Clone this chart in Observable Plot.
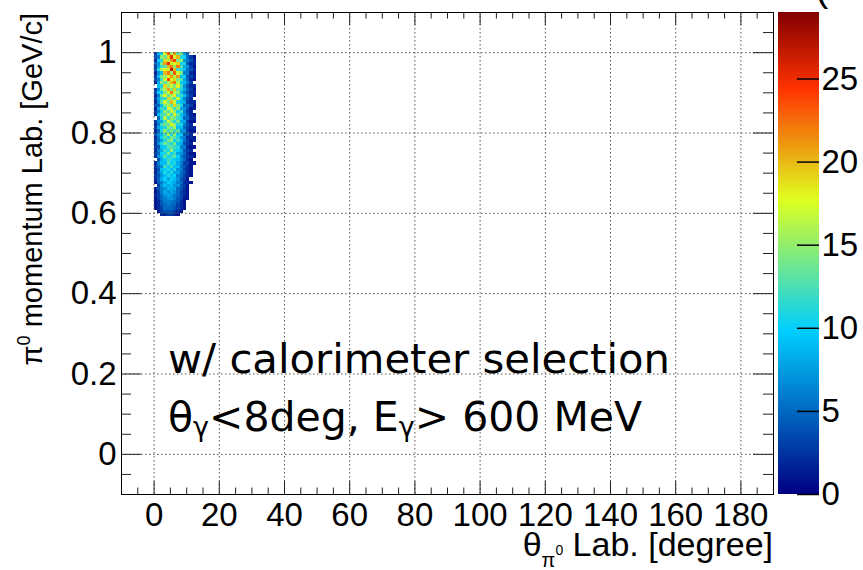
<!DOCTYPE html>
<html><head><meta charset="utf-8">
<script src="https://cdn.jsdelivr.net/npm/d3@7"></script>
<script src="https://cdn.jsdelivr.net/npm/@observablehq/plot@0.6"></script>
<style>
html,body{margin:0;padding:0;background:#fff;}
#wrap{position:relative;width:863px;height:570px;overflow:hidden;background:#fff;}
#wrap svg{position:absolute;top:0;}
</style></head><body><div id="wrap"></div>
<script>
// ---- histogram binning (theta in degree, momentum in GeV/c) ----
const thetaEdgeStart = 0;
const thetaBinWidth = 1;
const pTopEdge = 1.0;
const pBinWidth = 0.008;

// counts per row, from the top row (0.992-1.000 GeV/c) downwards; columns = theta bins 0..12 deg
const countRows = [
  "3 9 10 18 23 16 21 13 14 7 5 0 0",
  "4 6 15 14 19 25 17 20 11 10 5 3 1",
  "2 10 11 19 16 21 24 14 15 7 6 4 2",
  "5 7 14 21 25 17 18 19 10 11 4 2 2",
  "3 8 12 13 20 22 15 22 13 8 7 3 1",
  "4 11 16 18 17 27 20 12 11 9 5 4 2",
  "2 7 9 20 22 15 23 17 14 6 6 2 1",
  "3 9 14 15 18 21 16 21 9 10 4 3 2",
  "4 6 12 17 24 18 19 14 13 8 5 2 1",
  "2 8 15 13 16 20 22 16 10 9 6 3 0",
  "0 9 11 19 15 17 14 18 12 7 4 2 2",
  "3 7 13 16 21 14 19 13 11 8 5 3 1",
  "4 10 10 14 17 22 16 15 9 6 4 2 2",
  "2 6 14 18 13 16 18 12 12 9 5 3 1",
  "3 8 11 12 19 15 13 17 10 6 4 2 0",
  "2 7 13 17 14 20 17 11 9 8 3 2 2",
  "4 5 9 14 16 13 19 14 11 5 5 3 1",
  "2 8 12 11 18 16 12 15 8 7 4 1 2",
  "3 6 10 15 13 17 15 10 12 6 3 2 0",
  "2 9 12 13 16 12 18 13 9 7 4 2 1",
  "0 5 11 16 12 15 14 12 10 5 5 2 2",
  "3 7 8 12 17 14 11 14 8 8 3 1 1",
  "2 6 12 14 13 18 15 11 11 6 4 2 0",
  "3 8 10 11 15 13 16 9 9 5 3 2 2",
  "2 5 11 15 12 14 12 13 7 7 3 1 1",
  "4 7 9 12 16 11 15 10 10 4 4 2 0",
  "2 6 10 13 11 14 13 11 7 6 2 2 1",
  "3 5 8 11 14 15 10 12 9 5 3 1 2",
  "2 7 11 14 12 11 14 9 8 4 3 2 0",
  "3 4 9 10 13 13 12 11 6 6 2 1 1",
  "2 6 8 12 11 15 11 10 8 4 3 2 0",
  "3 5 10 11 14 10 12 8 7 5 2 1 1",
  "2 7 9 13 10 12 13 10 6 4 3 2 1",
  "0 4 8 10 12 11 10 9 7 5 2 1 0",
  "2 6 9 9 13 10 11 8 6 3 3 1 1",
  "3 5 7 12 10 12 9 9 5 4 2 1 0",
  "2 4 9 10 11 9 11 7 6 3 2 1 0",
  "2 5 8 11 9 11 8 8 5 4 2 1 0",
  "3 4 7 9 11 9 10 6 5 3 2 1 0",
  "2 5 8 10 8 10 9 7 4 3 1 0 0",
  "1 4 6 8 10 9 8 6 5 2 2 1 0",
  "0 3 7 9 8 9 7 7 4 3 1 0 0",
  "2 4 6 7 9 8 8 5 4 2 1 0 0",
  "1 3 6 8 7 8 7 5 3 2 1 0 0",
  "2 3 5 7 8 7 6 5 3 2 1 0 0",
  "1 3 5 6 7 7 6 4 3 1 1 0 0",
  "1 2 4 6 6 6 5 4 2 1 0 0 0",
  "1 2 4 5 6 5 5 3 2 1 0 0 0",
  "1 2 3 5 5 5 4 3 2 1 0 0 0",
  "0 1 3 4 4 4 3 2 1 0 0 0 0",
  "0 0 2 2 3 3 2 1 0 0 0 0 0"
];

// axes
const xDomain = [-10, 190];
const yDomain = [-0.1, 1.1];
const xMajorTicks = [0, 20, 40, 60, 80, 100, 120, 140, 160, 180];
const yMajorTicks = [0, 0.2, 0.4, 0.6, 0.8, 1];
const yMajorLabels = ["0", "0.2", "0.4", "0.6", "0.8", "1"];
const zMax = 29;
const zTicks = [0, 5, 10, 15, 20, 25];
const paletteStops = [0, 0.34, 0.61, 0.84, 1];
const paletteColors = ["rgb(0,0,130)", "rgb(0,207,255)", "rgb(222,255,31)", "rgb(255,51,0)", "rgb(130,0,0)"];

// ---- build table ----
const cells = [];
countRows.forEach((row, r) => {
  const vals = row.trim().split(/\s+/).map(Number);
  const y2 = pTopEdge - r * pBinWidth, y1 = y2 - pBinWidth;
  vals.forEach((v, c) => {
    if (v > 0) cells.push({x1: thetaEdgeStart + c * thetaBinWidth, x2: thetaEdgeStart + (c + 1) * thetaBinWidth, y1, y2, v});
  });
});
const xMinorTicks = d3.range(-10, 190.001, 5);
const yMinorTicks = d3.range(-0.1, 1.1001, 0.05);

const W = 863, H = 570, mL = 121, mR = 90, mT = 12, mB = 76;
const pxX = (xDomain[1] - xDomain[0]) / (W - mL - mR);
const pxY = (yDomain[1] - yDomain[0]) / (H - mT - mB);
const FONT = "Liberation Sans, Arial, Helvetica, sans-serif";
const TICKFS = 33;

const colorScale = {type: "linear", domain: paletteStops.map(s => s * zMax), range: paletteColors, clamp: true};
const isMajorY = d => yMajorTicks.some(t => Math.abs(t - d) < 1e-6);

const main = Plot.plot({
  width: W, height: H,
  marginLeft: mL, marginRight: mR, marginTop: mT, marginBottom: mB,
  style: {fontFamily: FONT, background: "transparent", color: "black"},
  x: {domain: xDomain, axis: null},
  y: {domain: yDomain, axis: null},
  color: colorScale,
  marks: [
    Plot.rect(cells, {x1: "x1", x2: "x2", y1: "y1", y2: "y2", fill: "v", shapeRendering: "crispEdges"}),
    Plot.gridX(xMajorTicks, {x: d => d, stroke: "#555", strokeOpacity: 1, strokeWidth: 1, strokeDasharray: "1.5,2.5"}),
    Plot.gridY(yMajorTicks, {y: d => d, stroke: "#555", strokeOpacity: 1, strokeWidth: 1, strokeDasharray: "1.5,2.5"}),
    Plot.ruleX(xMinorTicks, {x: d => d, y1: () => yDomain[0], y2: d => yDomain[0] + (xMajorTicks.includes(d) ? 13 : 6.5) * pxY, stroke: "#222"}),
    Plot.ruleX(xMinorTicks, {x: d => d, y1: () => yDomain[1], y2: d => yDomain[1] - (xMajorTicks.includes(d) ? 13 : 6.5) * pxY, stroke: "#222"}),
    Plot.ruleY(yMinorTicks, {y: d => d, x1: () => xDomain[0], x2: d => xDomain[0] + (isMajorY(d) ? 20 : 10) * pxX, stroke: "#222"}),
    Plot.ruleY(yMinorTicks, {y: d => d, x1: () => xDomain[1], x2: d => xDomain[1] - (isMajorY(d) ? 20 : 10) * pxX, stroke: "#222"}),
    Plot.frame({stroke: "black", strokeWidth: 1}),
    Plot.text(xMajorTicks, {x: d => d, y: () => yDomain[0], text: d => String(d), dy: 21, lineAnchor: "middle", fontSize: TICKFS, fontFamily: FONT, fill: "black"}),
    Plot.text(yMajorTicks, {x: () => xDomain[0], y: d => d, text: (d, i) => yMajorLabels[i], dx: -5, textAnchor: "end", lineAnchor: "middle", fontSize: TICKFS, fontFamily: FONT, fill: "black"})
  ]
});
main.style.left = "0px";

const rampStep = zMax / 400;
const ramp = d3.range(0, zMax, rampStep);
const bar = Plot.plot({
  width: 85, height: H,
  marginLeft: 0, marginRight: 44, marginTop: mT, marginBottom: mB,
  style: {fontFamily: FONT, background: "transparent", color: "black", overflow: "visible"},
  x: {domain: [0, 1], axis: null},
  y: {domain: [0, zMax], axis: null},
  color: colorScale,
  marks: [
    Plot.rect(ramp, {x1: () => 0, x2: () => 1, y1: d => d, y2: d => Math.min(zMax, d + rampStep * 1.6), fill: d => d + rampStep / 2, shapeRendering: "crispEdges"}),
    Plot.ruleY(zTicks, {y: d => d, x1: () => 1 - 22 / 41, x2: () => 1, stroke: "black", strokeWidth: 1.5}),
    Plot.text(zTicks, {x: () => 1, y: d => d, text: d => String(d), dx: 2, textAnchor: "start", lineAnchor: "middle", fontSize: TICKFS, fontFamily: FONT, fill: "black"})
  ]
});
bar.style.left = "778px";

const wrap = document.getElementById("wrap");
wrap.appendChild(main);
wrap.appendChild(bar);

// ---- titles and annotation ----
const NS = "http://www.w3.org/2000/svg";
const over = document.createElementNS(NS, "svg");
over.setAttribute("width", W); over.setAttribute("height", H);
over.style.left = "0px"; over.style.pointerEvents = "none";
over.innerHTML = `
<g font-family="${FONT}" fill="black">
  <text x="773" y="556" font-size="34" text-anchor="end">θ<tspan font-size="20" dy="11">π</tspan><tspan font-size="14" dy="-12">0</tspan><tspan font-size="34" dy="1"> Lab. [degree]</tspan></text>
  <text transform="translate(42,13) rotate(-90)" font-size="29" text-anchor="end">π<tspan font-size="18" dy="-12">0</tspan><tspan font-size="29" dy="12"> momentum Lab. [GeV/c]</tspan></text>
  <text x="815" y="1" font-size="40">(</text>
</g>
<g font-family="DejaVu Sans, Verdana, sans-serif" fill="black">
  <text x="168" y="373" font-size="41" textLength="502" lengthAdjust="spacingAndGlyphs">w/ calorimeter selection</text>
  <text x="168" y="431" font-size="41">θ<tspan font-size="27" dy="5">γ</tspan><tspan font-size="41" dy="-5">&lt;8deg, E</tspan><tspan font-size="27" dy="5">γ</tspan><tspan font-size="41" dy="-5">&gt; 600 MeV</tspan></text>
</g>`;
wrap.appendChild(over);
</script>
</body></html>
